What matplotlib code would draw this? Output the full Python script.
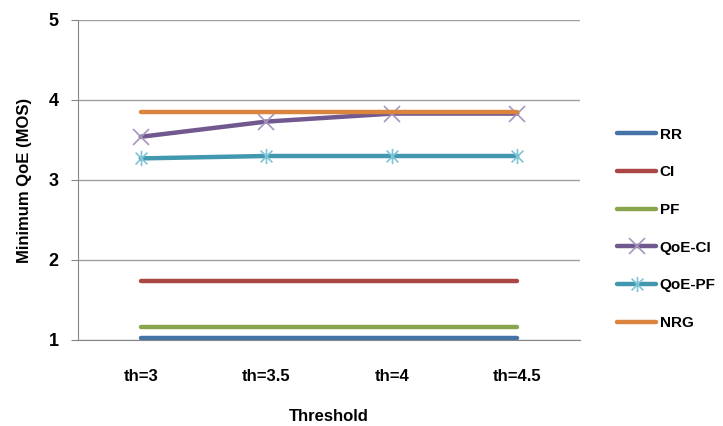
import matplotlib
matplotlib.use("Agg")
import matplotlib.pyplot as plt
from matplotlib.path import Path

# chart data
thresholds = ["th=3", "th=3.5", "th=4", "th=4.5"]
rr = [1.02, 1.02, 1.02, 1.02]
ci = [1.74, 1.74, 1.74, 1.74]
pf = [1.16, 1.16, 1.16, 1.16]
qoe_ci = [3.54, 3.73, 3.83, 3.83]
qoe_pf = [3.27, 3.30, 3.30, 3.30]
nrg = [3.85, 3.85, 3.85, 3.85]

plt.rcParams['font.family'] = ['Liberation Sans', 'DejaVu Sans']
plt.rcParams['font.weight'] = 'bold'

# Excel-style star marker: X plus a vertical bar
star = Path([(-1, -1), (1, 1), (-1, 1), (1, -1), (0, -1.3), (0, 1.3)],
            [Path.MOVETO, Path.LINETO, Path.MOVETO, Path.LINETO, Path.MOVETO, Path.LINETO])

fig = plt.figure(figsize=(7.23, 4.26), dpi=100)
ax = fig.add_axes([78 / 723, 1 - 340 / 426, 502 / 723, 320 / 426])

x = range(len(thresholds))
lw = 3.2
ax.plot(x, rr, color='#4572a7', lw=lw, label='RR', solid_capstyle='round')
ax.plot(x, ci, color='#aa4643', lw=lw, label='CI', solid_capstyle='round')
ax.plot(x, pf, color='#89a54e', lw=lw, label='PF', solid_capstyle='round')
ax.plot(x, qoe_ci, color='#71588f', lw=lw, label='QoE-CI', marker='x', ms=11,
        mec='#a596bd', mew=1.2, solid_capstyle='round')
ax.plot(x, qoe_pf, color='#4198af', lw=lw, label='QoE-PF', marker=star, ms=11,
        mec='#7ec3d6', mew=1.2, solid_capstyle='round')
ax.plot(x, nrg, color='#db843d', lw=lw, label='NRG', solid_capstyle='round')

ax.set_xlim(-0.5, len(thresholds) - 0.5)
ax.set_ylim(1, 5)
ax.set_yticks([1, 2, 3, 4, 5])
ax.set_xticks(list(x))
ax.set_xticklabels(thresholds)
ax.tick_params(axis='x', length=0, pad=21, labelsize=12)
ax.tick_params(axis='y', length=5, color='#868686', pad=9, labelsize=13)
ax.yaxis.grid(True, color='#a0a0a0', lw=1)
ax.set_axisbelow(True)
for s in ['top', 'right']:
    ax.spines[s].set_visible(False)
ax.spines['left'].set_color('#868686')
ax.spines['bottom'].set_color('#868686')

ax.set_xlabel('Threshold', fontsize=12, fontweight='bold', labelpad=18)
ax.set_ylabel('Minimum QoE (MOS)', fontsize=12, fontweight='bold', labelpad=12)

ax.legend(loc='upper left', bbox_to_anchor=(603 / 723, 1 - 114 / 426),
          bbox_transform=fig.transFigure, frameon=False, fontsize=11,
          handlelength=2.6, handletextpad=0.2, labelspacing=1.55)

fig.savefig('out.png', dpi=100)
